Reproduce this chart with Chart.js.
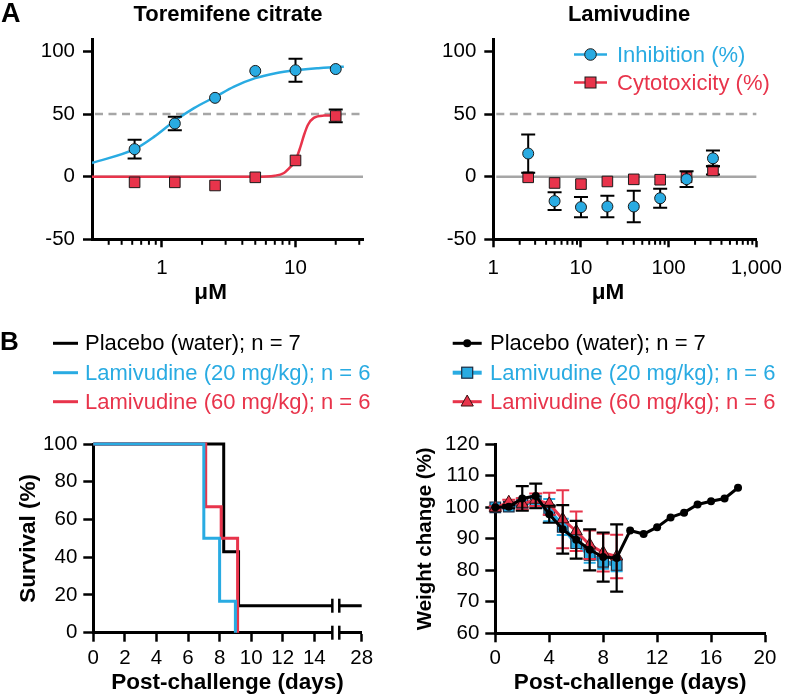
<!DOCTYPE html>
<html><head><meta charset="utf-8">
<script src="https://cdn.jsdelivr.net/npm/chart.js@4.4.0/dist/chart.umd.min.js"></script>
<style>
html,body{margin:0;padding:0;background:#fff;}
body{width:791px;height:696px;position:relative;overflow:hidden;font-family:"Liberation Sans",Arial,sans-serif;}
canvas{position:absolute;}
.t{position:absolute;white-space:nowrap;line-height:26px;height:26px;font-family:"Liberation Sans",Arial,sans-serif;}
.b{font-weight:bold;}
</style></head><body>
<canvas id="cA1" width="395" height="310" style="left:0;top:0"></canvas>
<canvas id="cA2" width="396" height="310" style="left:395px;top:0"></canvas>
<canvas id="cB1" width="395" height="276" style="left:0;top:420px"></canvas>
<canvas id="cB2" width="396" height="276" style="left:395px;top:420px"></canvas>

<div class="t b" style="left:1px;top:0px;font-size:27px;">A</div>
<div class="t b" style="left:0px;top:328px;font-size:26px;">B</div>
<div class="t b" style="left:28px;top:1px;width:400px;text-align:center;font-size:22px;">Toremifene citrate</div>
<div class="t b" style="left:429px;top:1px;width:400px;text-align:center;font-size:22px;">Lamivudine</div>

<svg style="position:absolute;left:0;top:0" width="791" height="696">
  <line x1="574" y1="54.5" x2="607" y2="54.5" stroke="#29ABE2" stroke-width="2.5"/>
  <circle cx="590.5" cy="54.5" r="5.8" fill="#29ABE2" stroke="#1a1a1a" stroke-width="1"/>
  <line x1="574" y1="82.5" x2="607" y2="82.5" stroke="#E8344B" stroke-width="2.5"/>
  <rect x="585" y="77" width="11" height="11" fill="#E8344B" stroke="#1a1a1a" stroke-width="1"/>

  <line x1="53" y1="343.3" x2="78" y2="343.3" stroke="#000" stroke-width="3"/>
  <line x1="53" y1="372.7" x2="78" y2="372.7" stroke="#29ABE2" stroke-width="3"/>
  <line x1="53" y1="401.7" x2="78" y2="401.7" stroke="#E8344B" stroke-width="3"/>

  <line x1="452.7" y1="343.3" x2="481.7" y2="343.3" stroke="#000" stroke-width="3"/>
  <circle cx="467.2" cy="343.3" r="4" fill="#000"/>
  <line x1="452.7" y1="372.7" x2="481.7" y2="372.7" stroke="#29ABE2" stroke-width="4"/>
  <rect x="461.7" y="367.2" width="11" height="11" fill="#29ABE2" stroke="#1a2a40" stroke-width="1.2"/>
  <line x1="452.7" y1="401.7" x2="481.7" y2="401.7" stroke="#E8344B" stroke-width="3"/>
  <polygon points="467.2,395 473.3,406 461.1,406" fill="#E8344B" stroke="#3a1010" stroke-width="1"/>
</svg>

<div class="t" style="left:617px;top:41.5px;font-size:22px;color:#29ABE2;">Inhibition (%)</div>
<div class="t" style="left:617px;top:69.5px;font-size:22px;color:#E8344B;">Cytotoxicity (%)</div>

<div class="t" style="left:85px;top:330.3px;font-size:22px;color:#000;">Placebo (water); n = 7</div>
<div class="t" style="left:85px;top:359.7px;font-size:22px;color:#29ABE2;">Lamivudine (20 mg/kg); n = 6</div>
<div class="t" style="left:85px;top:388.7px;font-size:22px;color:#E8344B;">Lamivudine (60 mg/kg); n = 6</div>

<div class="t" style="left:490px;top:330.3px;font-size:22px;color:#000;">Placebo (water); n = 7</div>
<div class="t" style="left:490px;top:359.7px;font-size:22px;color:#29ABE2;">Lamivudine (20 mg/kg); n = 6</div>
<div class="t" style="left:490px;top:388.7px;font-size:22px;color:#E8344B;">Lamivudine (60 mg/kg); n = 6</div>

<script>
// ---------- colours ----------
const BLUE = '#29ABE2', RED = '#E8344B', GREY = '#A6A6A6';

// ---------- Panel A: Toremifene citrate ----------
const toreConc      = [0.625, 1.25, 2.5, 5, 10, 20];
const toreInhib     = [22, 42.5, 63, 84.5, 85, 86];
const toreInhibErr  = [7.5, 5.3, 0, 0, 9.2, 0];
const toreCyto      = [-4.5, -4.5, -7, -0.5, 13, 48.5];
const toreCytoErr   = [0, 0, 0, 0, 0, 5.1];
const toreInhibFitX = [0.3, 0.625, 0.877, 1.25, 1.74, 2.5, 3.47, 5, 7.1, 10, 14.5, 20, 23];
const toreInhibFitY = [11, 22, 32, 44.7, 54.8, 63.7, 72, 78.7, 82.7, 85, 86.6, 87.7, 87.9];
const toreCytoFitX  = [0.3, 1, 3, 5, 7, 8.2, 9.2, 10, 10.9, 11.6, 12.4, 13.7, 16.3, 22];
const toreCytoFitY  = [0, 0, 0, 0, 0.8, 3, 8, 13, 24, 33.5, 41.5, 47, 48.8, 49];

// ---------- Panel A: Lamivudine ----------
const lamiConc     = [2.5, 5, 10, 20, 40, 80, 160, 320];
const lamiInhib    = [18.5, -19.5, -24.3, -23.8, -23.8, -17.2, -2, 14.7];
const lamiInhibErr = [15.3, 7, 8, 8.6, 12.5, 7.6, 6.3, 6.3];
const lamiCyto     = [-0.5, -5, -5.9, -3.8, -2.1, -2.4, -0.5, 5];
const lamiCytoErr  = [0, 0, 0, 0, 0, 0, 0, 3.3];

// ---------- axes A ----------
const pctTicks   = [-50, 0, 50, 100];
const refLines   = [0, 50];                       // 0 solid, 50 dashed
const toreXTicks = [0.4,0.5,0.6,0.7,0.8,0.9,1,2,3,4,5,6,7,8,9,10,20,30];
const lamiXTicks = [1,2,3,4,5,6,7,8,9,10,20,30,40,50,60,70,80,90,100,200,300,400,500,600,700,800,900,1000];
const logMajor   = [1, 10, 100, 1000];
const logLabels  = {1: '1', 10: '10', 100: '100', 1000: '1,000'};

// ---------- Panel B: survival ----------
const survPlaceboX = [0, 8.26, 9.2, 17];
const survPlaceboY = [100, 42.9, 14.3, 14.3];
const surv20X = [0, 7, 8, 9];
const surv20Y = [100, 50, 16.7, 0];
const surv60X = [0, 7.12, 8.1, 9.14];
const surv60Y = [100, 66.7, 50, 0];
const survXTicks  = [0, 2, 4, 6, 8, 10, 12, 14, 17];
const survXLabels = ['0', '2', '4', '6', '8', '10', '12', '14', '28'];
const survBreak   = [15.14, 15.58];

// ---------- Panel B: weight ----------
const wDaysPlacebo = [0,1,2,3,4,5,6,7,8,9,10,11,12,13,14,15,16,17,18];
const wPlacebo     = [100, 100.2, 102.8, 103.6, 97.8, 93, 89.7, 86.5, 84.2, 83.9, 92.6, 91.5, 93.7, 96.8, 98.3, 100.9, 101.9, 102.8, 106.2];
const wPlaceboErr  = [0, 0.5, 3.9, 3.9, 2.7, 7.7, 6, 6.5, 7.8, 10.7, 0, 0, 0, 0, 0, 0, 0, 0, 0];
const wDaysTreated = [0,1,2,3,4,5,6,7,8,9];
const w20    = [100, 100.2, 101.2, 101.8, 99.1, 93.8, 88.6, 84.9, 82.7, 81.7];
const w20Err = [0.3, 0.6, 1.5, 1.8, 3.5, 2.6, 2.5, 2.5, 2.2, 2.0];
const w60    = [99.8, 101.6, 101.1, 102.4, 101.1, 96.2, 92.4, 88.1, 85.6, 84.4];
const w60Err = [0.5, 0.8, 1.8, 2.0, 3.5, 9.2, 6.3, 4.5, 6.0, 6.9];

// ---------- helpers ----------
const zip = (xs, ys) => xs.map((x, i) => ({x: x, y: ys[i]}));
Chart.defaults.font.family = "'Liberation Sans', Arial, sans-serif";
Chart.defaults.color = '#000';

const errorBarPlugin = {
  id: 'errorBars',
  beforeDatasetDraw(chart, args) {
    const ds = chart.data.datasets[args.index];
    if (!ds.errorBars) return;
    const meta = args.meta, ys = chart.scales[meta.yAxisID], ctx = chart.ctx;
    const half = (ds.errorCap || 12) / 2;
    ctx.save();
    ctx.strokeStyle = ds.errorColor || '#000';
    ctx.lineWidth = ds.errorWidth || 2;
    meta.data.forEach((el, i) => {
      const e = ds.errorBars[i];
      if (!e) return;
      const v = ds.data[i].y;
      const yt = ys.getPixelForValue(v + e), yb = ys.getPixelForValue(v - e), x = el.x;
      ctx.beginPath();
      ctx.moveTo(x, yt); ctx.lineTo(x, yb);
      ctx.moveTo(x - half, yt); ctx.lineTo(x + half, yt);
      ctx.moveTo(x - half, yb); ctx.lineTo(x + half, yb);
      ctx.stroke();
    });
    ctx.restore();
  }
};

const refLinePlugin = {
  id: 'refLines',
  beforeDatasetsDraw(chart) {
    const ys = chart.scales.y, a = chart.chartArea, ctx = chart.ctx;
    ctx.save();
    ctx.strokeStyle = GREY; ctx.lineWidth = 2.5;
    refLines.forEach((v, i) => {
      ctx.setLineDash(i === 0 ? [] : [8, 5.5]);
      const y = ys.getPixelForValue(v);
      ctx.beginPath(); ctx.moveTo(a.left + 3, y); ctx.lineTo(a.right, y); ctx.stroke();
    });
    ctx.restore();
  }
};

const minorTickPlugin = {
  id: 'minorTicks',
  afterDraw(chart) {
    const xs = chart.scales.x, a = chart.chartArea, ctx = chart.ctx;
    ctx.save(); ctx.strokeStyle = '#000'; ctx.lineWidth = 2;
    xs.ticks.forEach(t => {
      if (logMajor.includes(t.value)) return;
      const x = xs.getPixelForValue(t.value);
      ctx.beginPath(); ctx.moveTo(x, a.bottom); ctx.lineTo(x, a.bottom + 5.5); ctx.stroke();
    });
    ctx.restore();
  }
};

const breakPlugin = {
  id: 'axisBreak',
  afterDatasetsDraw(chart) {
    const xs = chart.scales.x, ys = chart.scales.y, a = chart.chartArea, ctx = chart.ctx;
    const x1 = xs.getPixelForValue(survBreak[0]), x2 = xs.getPixelForValue(survBreak[1]);
    ctx.save();
    ctx.fillStyle = '#fff';
    ctx.fillRect(x1, a.top - 2, x2 - x1, a.bottom - a.top + 4);
    ctx.strokeStyle = '#000'; ctx.lineWidth = 2.5;
    [ys.getPixelForValue(0), ys.getPixelForValue(survPlaceboY[survPlaceboY.length - 1])].forEach(y => {
      [x1, x2].forEach(x => { ctx.beginPath(); ctx.moveTo(x, y - 7); ctx.lineTo(x, y + 7); ctx.stroke(); });
    });
    ctx.restore();
  }
};

const tickFont = {size: 20.5};
const titleFont = {size: 22.5, weight: 'bold'};

function pctYAxis(width) {
  return {
    min: -50, max: 110,
    afterBuildTicks: s => { s.ticks = pctTicks.map(v => ({value: v})); },
    afterFit: s => { s.width = width; },
    ticks: {padding: 8, font: tickFont, color: '#000', callback: v => String(v)},
    grid: {drawOnChartArea: false, tickLength: 9, tickWidth: 2.5, tickColor: '#000'},
    border: {display: true, width: 3, color: '#000'}
  };
}
function logXAxis(min, max, tickVals) {
  return {
    type: 'logarithmic', min: min, max: max,
    afterBuildTicks: s => { s.ticks = tickVals.map(v => ({value: v})); },
    afterFit: s => { s.height = 70.7; },
    ticks: {padding: 9, autoSkip: false, maxRotation: 0, font: tickFont, color: '#000',
            callback: v => (logLabels[v] !== undefined ? logLabels[v] : '')},
    grid: {drawOnChartArea: false, tickLength: 8, tickWidth: 2.5,
           tickColor: c => (c.tick && logMajor.includes(c.tick.value)) ? '#000' : 'rgba(0,0,0,0)'},
    border: {display: true, width: 3, color: '#000'},
    title: {display: true, text: 'μM\u2003\u2002', font: titleFont, color: '#000', padding: {top: 0, bottom: 3.8}}
  };
}
const common = {
  responsive: false, animation: false, devicePixelRatio: 1,
  plugins: {legend: {display: false}, tooltip: {enabled: false}}
};

// ---------- A1: Toremifene ----------
new Chart(document.getElementById('cA1'), {
  type: 'line',
  data: {datasets: [
    {label: 'Inhibition (%)', data: zip(toreConc, toreInhib), showLine: false,
     pointStyle: 'circle', pointRadius: 5.5, pointBackgroundColor: BLUE, pointBorderColor: '#1a1a1a', pointBorderWidth: 1,
     errorBars: toreInhibErr, errorCap: 14, errorWidth: 2, clip: false},
    {label: 'Cytotoxicity (%)', data: zip(toreConc, toreCyto), showLine: false,
     pointStyle: 'rect', pointRadius: 7.5, pointBackgroundColor: RED, pointBorderColor: '#1a1a1a', pointBorderWidth: 1,
     errorBars: toreCytoErr, errorCap: 14, errorWidth: 2, clip: false},
    {label: 'Inhibition fit', data: zip(toreInhibFitX, toreInhibFitY), borderColor: BLUE, borderWidth: 2.5,
     pointRadius: 0, cubicInterpolationMode: 'monotone', fill: false},
    {label: 'Cytotoxicity fit', data: zip(toreCytoFitX, toreCytoFitY), borderColor: RED, borderWidth: 2.5,
     pointRadius: 0, cubicInterpolationMode: 'monotone', fill: false}
  ]},
  options: Object.assign({}, common, {
    layout: {padding: {left: 0, right: 32, top: 39, bottom: 0}},
    scales: {x: logXAxis(0.3, 32, toreXTicks), y: pctYAxis(92)}
  }),
  plugins: [errorBarPlugin, refLinePlugin, minorTickPlugin]
});

// ---------- A2: Lamivudine ----------
new Chart(document.getElementById('cA2'), {
  type: 'line',
  data: {datasets: [
    {label: 'Inhibition (%)', data: zip(lamiConc, lamiInhib), showLine: false,
     pointStyle: 'circle', pointRadius: 5.5, pointBackgroundColor: BLUE, pointBorderColor: '#1a1a1a', pointBorderWidth: 1,
     errorBars: lamiInhibErr, errorCap: 14, errorWidth: 2, clip: false},
    {label: 'Cytotoxicity (%)', data: zip(lamiConc, lamiCyto), showLine: false,
     pointStyle: 'rect', pointRadius: 7.5, pointBackgroundColor: RED, pointBorderColor: '#1a1a1a', pointBorderWidth: 1,
     errorBars: lamiCytoErr, errorCap: 14, errorWidth: 2, clip: false}
  ]},
  options: Object.assign({}, common, {
    layout: {padding: {left: 0, right: 28.7, top: 39, bottom: 0}},
    scales: {x: logXAxis(1, 1000, lamiXTicks), y: pctYAxis(98.3)}
  }),
  plugins: [errorBarPlugin, refLinePlugin, minorTickPlugin]
});

// ---------- B1: survival ----------
new Chart(document.getElementById('cB1'), {
  type: 'line',
  data: {datasets: [
    {label: 'Lamivudine (20 mg/kg); n = 6', data: zip(surv20X, surv20Y), stepped: 'before',
     borderColor: BLUE, borderWidth: 3, pointRadius: 0, fill: false, clip: false},
    {label: 'Lamivudine (60 mg/kg); n = 6', data: zip(surv60X, surv60Y), stepped: 'before',
     borderColor: RED, borderWidth: 3, pointRadius: 0, fill: false, clip: false},
    {label: 'Placebo (water); n = 7', data: zip(survPlaceboX, survPlaceboY), stepped: 'before',
     borderColor: '#000', borderWidth: 3, pointRadius: 0, fill: false, clip: false}
  ]},
  options: Object.assign({}, common, {
    layout: {padding: {left: 0, right: 33.3, top: 24, bottom: 0}},
    scales: {
      x: {type: 'linear', min: 0, max: 17,
          afterBuildTicks: s => { s.ticks = survXTicks.map(v => ({value: v})); },
          afterFit: s => { s.height = 63.3; },
          ticks: {padding: 4.3, autoSkip: false, maxRotation: 0, font: tickFont, color: '#000',
                  callback: (v) => survXLabels[survXTicks.indexOf(v)]},
          grid: {drawOnChartArea: false, tickLength: 9, tickWidth: 2.5, tickColor: '#000'},
          border: {display: true, width: 3, color: '#000'},
          title: {display: true, text: 'Post-challenge (days)', font: titleFont, color: '#000', padding: {top: 0, bottom: 0}}},
      y: {min: 0, max: 100,
          ticks: {stepSize: 20, padding: 6, font: tickFont, color: '#000'},
          afterFit: s => { s.width = 93.3; },
          grid: {drawOnChartArea: false, tickLength: 10, tickWidth: 2.5, tickColor: '#000'},
          border: {display: true, width: 3, color: '#000'},
          title: {display: true, text: 'Survival (%)', font: titleFont, color: '#000', padding: {top: 15.1, bottom: 0}}}
    }
  }),
  plugins: [breakPlugin]
});

// ---------- B2: weight ----------
new Chart(document.getElementById('cB2'), {
  type: 'line',
  data: {datasets: [
    {label: 'Placebo (water); n = 7', data: zip(wDaysPlacebo, wPlacebo), borderColor: '#000', borderWidth: 3,
     pointStyle: 'circle', pointRadius: 4, pointBackgroundColor: '#000', pointBorderColor: '#000', pointBorderWidth: 0,
     errorBars: wPlaceboErr, errorCap: 13, errorWidth: 2.2, errorColor: '#000', clip: false},
    {label: 'Lamivudine (60 mg/kg); n = 6', data: zip(wDaysTreated, w60), borderColor: RED, borderWidth: 3,
     pointStyle: 'triangle', pointRadius: 7, pointBackgroundColor: RED, pointBorderColor: '#3a1010', pointBorderWidth: 1,
     errorBars: w60Err, errorCap: 13, errorWidth: 2, errorColor: RED, clip: false},
    {label: 'Lamivudine (20 mg/kg); n = 6', data: zip(wDaysTreated, w20), borderColor: BLUE, borderWidth: 4.5,
     pointStyle: 'rect', pointRadius: 7.5, pointBackgroundColor: BLUE, pointBorderColor: '#1a2a40', pointBorderWidth: 1.2,
     errorBars: w20Err, errorCap: 12, errorWidth: 2, errorColor: BLUE, clip: false}
  ]},
  options: Object.assign({}, common, {
    layout: {padding: {left: 0, right: 26, top: 24.3, bottom: 0}},
    scales: {
      x: {type: 'linear', min: 0, max: 20,
          afterFit: s => { s.height = 62.7; },
          ticks: {stepSize: 4, padding: 3.4, maxRotation: 0, font: tickFont, color: '#000'},
          grid: {drawOnChartArea: false, tickLength: 9, tickWidth: 2.5, tickColor: '#000'},
          border: {display: true, width: 3, color: '#000'},
          title: {display: true, text: 'Post-challenge (days)', font: titleFont, color: '#000', padding: {top: 0, bottom: 0}}},
      y: {min: 60, max: 120,
          ticks: {stepSize: 10, padding: 6, font: tickFont, color: '#000'},
          afterFit: s => { s.width = 100.3; },
          grid: {drawOnChartArea: false, tickLength: 10, tickWidth: 2.5, tickColor: '#000'},
          border: {display: true, width: 3, color: '#000'},
          title: {display: true, text: 'Weight change (%)', font: {size: 20.5, weight: 'bold'}, color: '#000', padding: {top: 18.5, bottom: 0}}}
    }
  }),
  plugins: [errorBarPlugin]
});
</script>
</body></html>
